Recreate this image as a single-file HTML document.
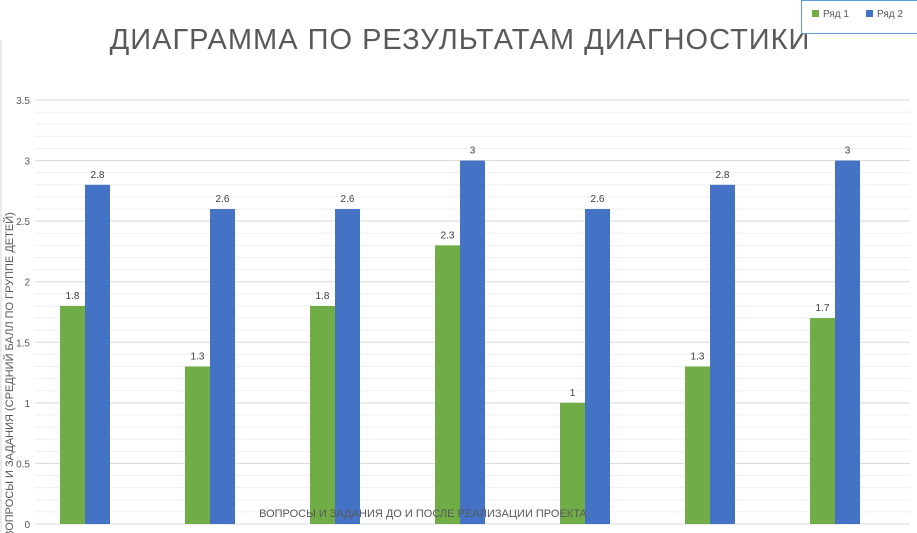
<!DOCTYPE html>
<html><head><meta charset="utf-8">
<style>
body{margin:0;background:#fff;font-family:"Liberation Sans","DejaVu Sans",sans-serif;}
#wrap{position:relative;width:917px;height:533px;overflow:hidden;background:#fff;}
</style></head>
<body>
<div id="wrap">
<svg id="chart" width="917" height="533">
<line x1="1" y1="40" x2="1" y2="533" stroke="#d9d9d9"/>
<text x="460" y="49" text-anchor="middle" font-size="29" fill="#595959" letter-spacing="1">ДИАГРАММА  ПО  РЕЗУЛЬТАТАМ  ДИАГНОСТИКИ</text>
<g id="grid"></g>
<g id="bars"></g>
<g id="yticks"></g>
<text transform="translate(13,375) rotate(-90)" text-anchor="middle" font-size="11" fill="#595959">ВОПРОСЫ  И   ЗАДАНИЯ  (СРЕДНИЙ  БАЛЛ  ПО  ГРУППЕ  ДЕТЕЙ)</text>
<text x="423" y="517" text-anchor="middle" font-size="11" fill="#595959">ВОПРОСЫ  И  ЗАДАНИЯ  ДО  И  ПОСЛЕ  РЕАЛИЗАЦИИ  ПРОЕКТА</text>
<g>
<rect x="801.5" y="0.5" width="116" height="33" fill="#fff" stroke="#5b9bd5"/>
<rect x="812" y="10" width="7" height="7" fill="#70ad47"/>
<text x="823" y="17" font-size="10" fill="#595959">Ряд 1</text>
<rect x="866" y="10" width="7" height="7" fill="#4472c4"/>
<text x="877" y="17" font-size="10" fill="#595959">Ряд 2</text>
</g>
</svg>
</div>
<script>
const categories=["1","2","3","4","5","6","7"];
const series1=[1.8,1.3,1.8,2.3,1,1.3,1.7];
const series2=[2.8,2.6,2.6,3,2.6,2.8,3];
const yTicks=[0,0.5,1,1.5,2,2.5,3,3.5];
const yMax=3.5;
const NS="http://www.w3.org/2000/svg";
const plotTop=100,plotBottom=524,plotLeft=22.5,catW=125;
function y(v){return plotBottom-(v/yMax)*(plotBottom-plotTop);}
function xc(i){return plotLeft+catW*(i+0.5);}
function mk(tag,attrs,parent){const e=document.createElementNS(NS,tag);for(const k in attrs)e.setAttribute(k,attrs[k]);parent.appendChild(e);return e;}
const grid=document.getElementById('grid');
for(let k=0;k<=Math.round(yMax*10);k++){
  const v=k/10;const major=k%5===0;
  const l=mk('line',{x1:35,x2:910,y1:y(v),y2:y(v),stroke:major?'#d9d9d9':'#efefef','stroke-width':1},grid);
  
  
}
const yt=document.getElementById('yticks');
yTicks.forEach(v=>{
  const t=mk('text',{x:30,y:y(v)+4,'text-anchor':'end','font-size':10,fill:'#595959'},yt);
  t.textContent=String(v);
  
  
});
const bars=document.getElementById('bars');
categories.forEach((c,i)=>{
  [[series1,'#70ad47',-25,'bar-series-1'],[series2,'#4472c4',0,'bar-series-2']].forEach(([s,col,off,nm])=>{
    const v=s[i];
    const r=mk('rect',{x:xc(i)+off,y:y(v),width:25,height:plotBottom-y(v),fill:col},bars);
    
    
    const t=mk('text',{x:xc(i)+off+12.5,y:y(v)-7,'text-anchor':'middle','font-size':10,fill:'#404040'},bars);
    t.textContent=String(v);
    
    
  });
});
</script>
</body></html>
